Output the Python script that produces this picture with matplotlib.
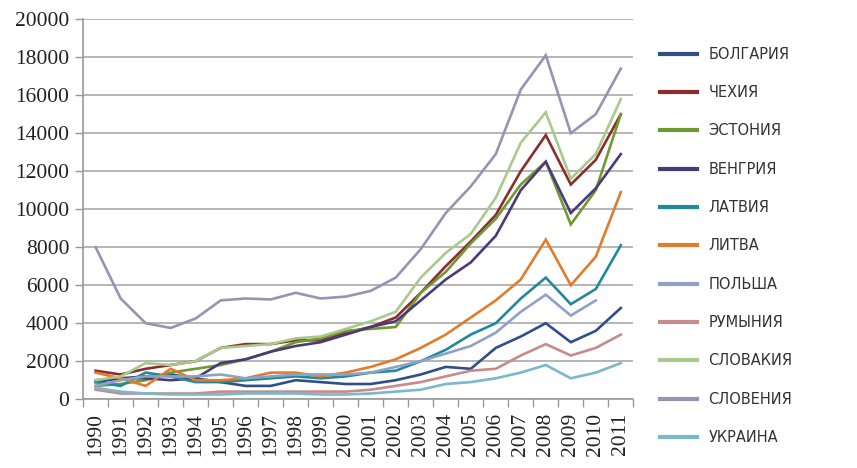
import matplotlib.pyplot as plt
import matplotlib

matplotlib.rcParams['font.family'] = ['DejaVu Sans']

years = [str(y) for y in range(1990, 2012)]

bulgaria = [900, 1100, 1200, 1300, 1100, 900, 700, 700, 1000, 900, 800, 800,
            1000, 1300, 1700, 1600, 2700, 3300, 4000, 3000, 3600, 4800]
czech = [1500, 1300, 1600, 1800, 2000, 2700, 2900, 2900, 3100, 3100, 3500, 3800,
         4300, 5600, 7000, 8300, 9700, 12000, 13900, 11300, 12600, 15000]
estonia = [700, 800, 1000, 1400, 1600, 1800, 2100, 2500, 3000, 3200, 3600, 3700,
           3800, 5600, 6700, 8200, 9500, 11300, 12500, 9200, 11000, 15000]
hungary = [1000, 1100, 1100, 1000, 1100, 1900, 2100, 2500, 2800, 3000, 3400, 3800,
           4100, 5200, 6300, 7200, 8600, 11000, 12500, 9800, 11100, 12900]
latvia = [900, 700, 1400, 1200, 900, 900, 1000, 1100, 1200, 1100, 1200, 1400,
          1500, 2000, 2600, 3400, 4000, 5300, 6400, 5000, 5800, 8100]
lithuania = [1400, 1100, 700, 1600, 1000, 1000, 1100, 1400, 1400, 1200, 1400, 1700,
             2100, 2700, 3400, 4300, 5200, 6300, 8400, 6000, 7500, 10900]
poland = [700, 1000, 1200, 1200, 1200, 1300, 1100, 1200, 1300, 1300, 1300, 1400,
          1700, 2000, 2400, 2800, 3500, 4600, 5500, 4400, 5200, None]
romania = [500, 300, 300, 300, 300, 400, 400, 400, 400, 400, 400, 500,
           700, 900, 1200, 1500, 1600, 2300, 2900, 2300, 2700, 3400]
slovakia = [1000, 1200, 1900, 1800, 2000, 2700, 2800, 2900, 3200, 3300, 3700, 4100,
            4600, 6400, 7700, 8700, 10600, 13500, 15100, 11600, 12900, 15800]
slovenia = [8000, 5300, 4000, 3750, 4250, 5200, 5300, 5250, 5600, 5300, 5400, 5700,
            6400, 7900, 9800, 11200, 12900, 16300, 18100, 14000, 15000, 17400]
ukraine = [600, 400, 300, 250, 250, 250, 300, 300, 300, 250, 250, 300,
           400, 500, 800, 900, 1100, 1400, 1800, 1100, 1400, 1900]

series = [
    ('БОЛГАРИЯ', bulgaria, '#2f4f88'),
    ('ЧЕХИЯ', czech, '#8c2c2c'),
    ('ЭСТОНИЯ', estonia, '#6f9a32'),
    ('ВЕНГРИЯ', hungary, '#4a3a7c'),
    ('ЛАТВИЯ', latvia, '#22899a'),
    ('ЛИТВА', lithuania, '#e27c2c'),
    ('ПОЛЬША', poland, '#8ea2c6'),
    ('РУМЫНИЯ', romania, '#c88a8a'),
    ('СЛОВАКИЯ', slovakia, '#aac98c'),
    ('СЛОВЕНИЯ', slovenia, '#9a92b2'),
    ('УКРАИНА', ukraine, '#7ab8cc'),
]

fig = plt.figure(figsize=(8.57, 4.68), dpi=100)
ax = fig.add_axes([0.097, 0.147, 0.642, 0.812])

x = list(range(len(years)))
for name, vals, col in series:
    xs = [i for i, v in zip(x, vals) if v is not None]
    ys = [v for v in vals if v is not None]
    ax.plot(xs, ys, color=col, linewidth=1.9, label=name, solid_joinstyle='miter')

ax.set_xlim(-0.5, len(years) - 0.5)
ax.set_ylim(0, 20000)
ax.set_yticks(range(0, 20001, 2000))
ax.set_yticklabels([str(v) for v in range(0, 20001, 2000)],
                   fontfamily='Liberation Serif', fontsize=15.5, color='#222222')
ax.set_xticks(x)
ax.set_xticklabels(years, rotation=90, fontfamily='Liberation Serif',
                   fontsize=15.5, color='#222222')
ax.tick_params(axis='x', length=0, pad=10)
ax.set_xticks([i + 0.5 for i in range(-1, len(years))], minor=True)
ax.tick_params(axis='x', which='minor', length=6, color='#999999', width=1)
ax.tick_params(axis='y', length=6, color='#999999', width=1, pad=4)

ax.grid(axis='y', color='#b5b5b5', linewidth=1.4)
ax.set_axisbelow(True)
for s in ['top', 'right']:
    ax.spines[s].set_visible(False)
for s in ['left', 'bottom']:
    ax.spines[s].set_color('#999999')
    ax.spines[s].set_linewidth(1.2)

leg = fig.legend(loc='upper left', bbox_to_anchor=(0.755, 0.928), frameon=False,
                 fontsize=10.5, labelspacing=1.6, handlelength=2.55,
                 handletextpad=0.75)
for t in leg.get_texts():
    t.set_color('#333333')
for h in leg.legend_handles:
    h.set_linewidth(3)

plt.savefig('out.png', dpi=100)
